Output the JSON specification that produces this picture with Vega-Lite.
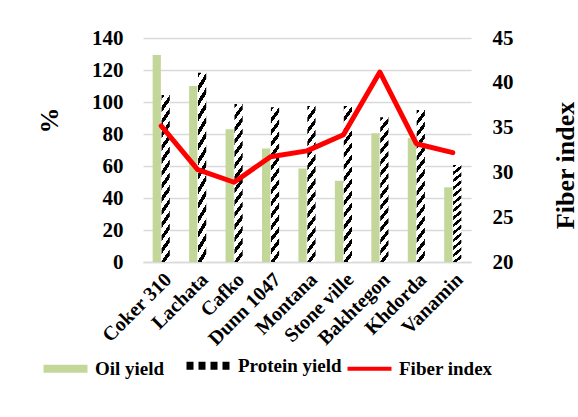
{
  "$schema": "https://vega.github.io/schema/vega-lite/v6.json",
  "width": 328,
  "height": 224,
  "autosize": {"type": "none"},
  "padding": {"left": 143, "top": 38, "right": 107, "bottom": 155},
  "background": "white",
  "config": {
    "view": {"stroke": null},
    "font": "Liberation Serif",
    "axis": {
      "labelFont": "Liberation Serif",
      "labelFontWeight": "bold",
      "labelColor": "black",
      "titleFont": "Liberation Serif",
      "titleFontWeight": "bold",
      "titleColor": "black",
      "ticks": false,
      "domain": false
    }
  },
  "data": {
    "values": [
      {"variety": "Coker 310", "series": "Oil yield", "value": 129.4},
      {"variety": "Lachata", "series": "Oil yield", "value": 110},
      {"variety": "Cafko", "series": "Oil yield", "value": 83},
      {"variety": "Dunn 1047", "series": "Oil yield", "value": 71},
      {"variety": "Montana", "series": "Oil yield", "value": 58.5},
      {"variety": "Stone ville", "series": "Oil yield", "value": 50.8},
      {"variety": "Bakhtegon", "series": "Oil yield", "value": 80.4},
      {"variety": "Khdorda", "series": "Oil yield", "value": 77.5},
      {"variety": "Vanamin", "series": "Oil yield", "value": 46.7},
      {"variety": "Coker 310", "series": "Protein yield", "value": 104.4},
      {"variety": "Lachata", "series": "Protein yield", "value": 118.3},
      {"variety": "Cafko", "series": "Protein yield", "value": 98.7},
      {"variety": "Dunn 1047", "series": "Protein yield", "value": 96.7},
      {"variety": "Montana", "series": "Protein yield", "value": 97.5},
      {"variety": "Stone ville", "series": "Protein yield", "value": 97.5},
      {"variety": "Bakhtegon", "series": "Protein yield", "value": 90.4},
      {"variety": "Khdorda", "series": "Protein yield", "value": 95},
      {"variety": "Vanamin", "series": "Protein yield", "value": 60.6},
      {"variety": "Coker 310", "series": "Fiber index", "value": 35.2},
      {"variety": "Lachata", "series": "Fiber index", "value": 30.3},
      {"variety": "Cafko", "series": "Fiber index", "value": 28.9},
      {"variety": "Dunn 1047", "series": "Fiber index", "value": 31.75},
      {"variety": "Montana", "series": "Fiber index", "value": 32.4},
      {"variety": "Stone ville", "series": "Fiber index", "value": 34.2},
      {"variety": "Bakhtegon", "series": "Fiber index", "value": 41.2},
      {"variety": "Khdorda", "series": "Fiber index", "value": 33.2},
      {"variety": "Vanamin", "series": "Fiber index", "value": 32.2}
    ]
  },
  "encoding": {
    "x": {
      "field": "variety",
      "type": "nominal",
      "sort": null,
      "scale": {"paddingInner": 0.53, "paddingOuter": 0.265},
      "axis": {
        "title": null,
        "labelAngle": -45,
        "labelFontSize": 20,
        "labelPadding": 7,
        "domain": true,
        "domainColor": "#d9d9d9",
        "domainWidth": 1.5
      }
    }
  },
  "layer": [
    {
      "transform": [{"filter": "datum.series !== 'Fiber index'"}],
      "mark": {"type": "bar"},
      "encoding": {
        "xOffset": {"field": "series", "type": "nominal", "scale": {"paddingInner": 0.08}},
        "y": {
          "field": "value",
          "type": "quantitative",
          "scale": {"domain": [0, 140]},
          "axis": {
            "values": [0, 20, 40, 60, 80, 100, 120, 140],
            "grid": true,
            "gridColor": "#d9d9d9",
            "gridWidth": 1.5,
            "labelFontSize": 21,
            "labelPadding": 20,
            "title": "%",
            "titleFontSize": 26,
            "titleAngle": 270,
            "titleAlign": "center",
            "titleBaseline": "middle",
            "titleX": -94,
            "titleY": 82
          }
        },
        "color": {
          "condition": {
            "test": "datum.series === 'Protein yield'",
            "value": {
              "gradient": "linear",
              "x1": 0, "y1": -0.05, "x2": 0.08, "y2": 1.1,
              "stops": [
                {"offset": 0, "color": "white"}, {"offset": 0.0367, "color": "white"}, {"offset": 0.0367, "color": "black"}, {"offset": 0.0667, "color": "black"},
                {"offset": 0.0667, "color": "white"}, {"offset": 0.1033, "color": "white"}, {"offset": 0.1033, "color": "black"}, {"offset": 0.1333, "color": "black"},
                {"offset": 0.1333, "color": "white"}, {"offset": 0.17, "color": "white"}, {"offset": 0.17, "color": "black"}, {"offset": 0.2, "color": "black"},
                {"offset": 0.2, "color": "white"}, {"offset": 0.2367, "color": "white"}, {"offset": 0.2367, "color": "black"}, {"offset": 0.2667, "color": "black"},
                {"offset": 0.2667, "color": "white"}, {"offset": 0.3033, "color": "white"}, {"offset": 0.3033, "color": "black"}, {"offset": 0.3333, "color": "black"},
                {"offset": 0.3333, "color": "white"}, {"offset": 0.37, "color": "white"}, {"offset": 0.37, "color": "black"}, {"offset": 0.4, "color": "black"},
                {"offset": 0.4, "color": "white"}, {"offset": 0.4367, "color": "white"}, {"offset": 0.4367, "color": "black"}, {"offset": 0.4667, "color": "black"},
                {"offset": 0.4667, "color": "white"}, {"offset": 0.5033, "color": "white"}, {"offset": 0.5033, "color": "black"}, {"offset": 0.5333, "color": "black"},
                {"offset": 0.5333, "color": "white"}, {"offset": 0.57, "color": "white"}, {"offset": 0.57, "color": "black"}, {"offset": 0.6, "color": "black"},
                {"offset": 0.6, "color": "white"}, {"offset": 0.6367, "color": "white"}, {"offset": 0.6367, "color": "black"}, {"offset": 0.6667, "color": "black"},
                {"offset": 0.6667, "color": "white"}, {"offset": 0.7033, "color": "white"}, {"offset": 0.7033, "color": "black"}, {"offset": 0.7333, "color": "black"},
                {"offset": 0.7333, "color": "white"}, {"offset": 0.77, "color": "white"}, {"offset": 0.77, "color": "black"}, {"offset": 0.8, "color": "black"},
                {"offset": 0.8, "color": "white"}, {"offset": 0.8367, "color": "white"}, {"offset": 0.8367, "color": "black"}, {"offset": 0.8667, "color": "black"},
                {"offset": 0.8667, "color": "white"}, {"offset": 0.9033, "color": "white"}, {"offset": 0.9033, "color": "black"}, {"offset": 0.9333, "color": "black"},
                {"offset": 0.9333, "color": "white"}, {"offset": 0.97, "color": "white"}, {"offset": 0.97, "color": "black"}, {"offset": 1, "color": "black"}
              ]
            }
          },
          "field": "series",
          "type": "nominal",
          "scale": {
            "domain": ["Oil yield", "Protein yield", "Fiber index"],
            "range": ["#c4d79b", "#000000", "#ff0000"]
          },
          "legend": {
            "orient": "none",
            "legendX": -87,
            "legendY": 318,
            "direction": "horizontal",
            "title": null,
            "labelFont": "Liberation Serif",
            "labelFontSize": 19,
            "labelFontWeight": "bold",
            "labelColor": "black",
            "symbolSize": 1936,
            "labelOffset": 20,
            "columnPadding": 5,
            "encode": {
              "symbols": {
                "update": {
                  "shape": {"signal": "datum.value === 'Fiber index' ? 'M-1,-0.09H1V0.09H-1Z' : datum.value === 'Protein yield' ? 'M-1,0H1' : 'M-1,-0.18H1V0.18H-1Z'"},
                  "fill": {"signal": "datum.value === 'Protein yield' ? 'transparent' : datum.value === 'Oil yield' ? '#c4d79b' : '#ff0000'"},
                  "stroke": {"signal": "datum.value === 'Protein yield' ? 'black' : 'transparent'"},
                  "strokeWidth": {"signal": "datum.value === 'Protein yield' ? 8 : 0"},
                  "strokeDash": {"signal": "datum.value === 'Protein yield' ? [7, 5] : [1, 0]"},
                  "opacity": {"value": 1},
                  "fillOpacity": {"value": 1},
                  "strokeOpacity": {"value": 1},
                  "size": {"value": 1936}
                }
              }
            }
          }
        }
      }
    },
    {
      "transform": [{"filter": "datum.series === 'Fiber index'"}],
      "mark": {"type": "line", "strokeWidth": 5, "strokeCap": "round", "strokeJoin": "round"},
      "encoding": {
        "y": {
          "field": "value",
          "type": "quantitative",
          "scale": {"domain": [20, 45]},
          "axis": {
            "orient": "right",
            "values": [20, 25, 30, 35, 40, 45],
            "grid": false,
            "labelFontSize": 21,
            "labelPadding": 21,
            "title": "Fiber index",
            "titleFontSize": 26,
            "titleAngle": 270,
            "titleAlign": "center",
            "titleBaseline": "middle",
            "titleX": 94,
            "titleY": 127
          }
        },
        "color": {
          "field": "series",
          "type": "nominal"
        }
      }
    }
  ],
  "resolve": {"scale": {"y": "independent"}}
}
